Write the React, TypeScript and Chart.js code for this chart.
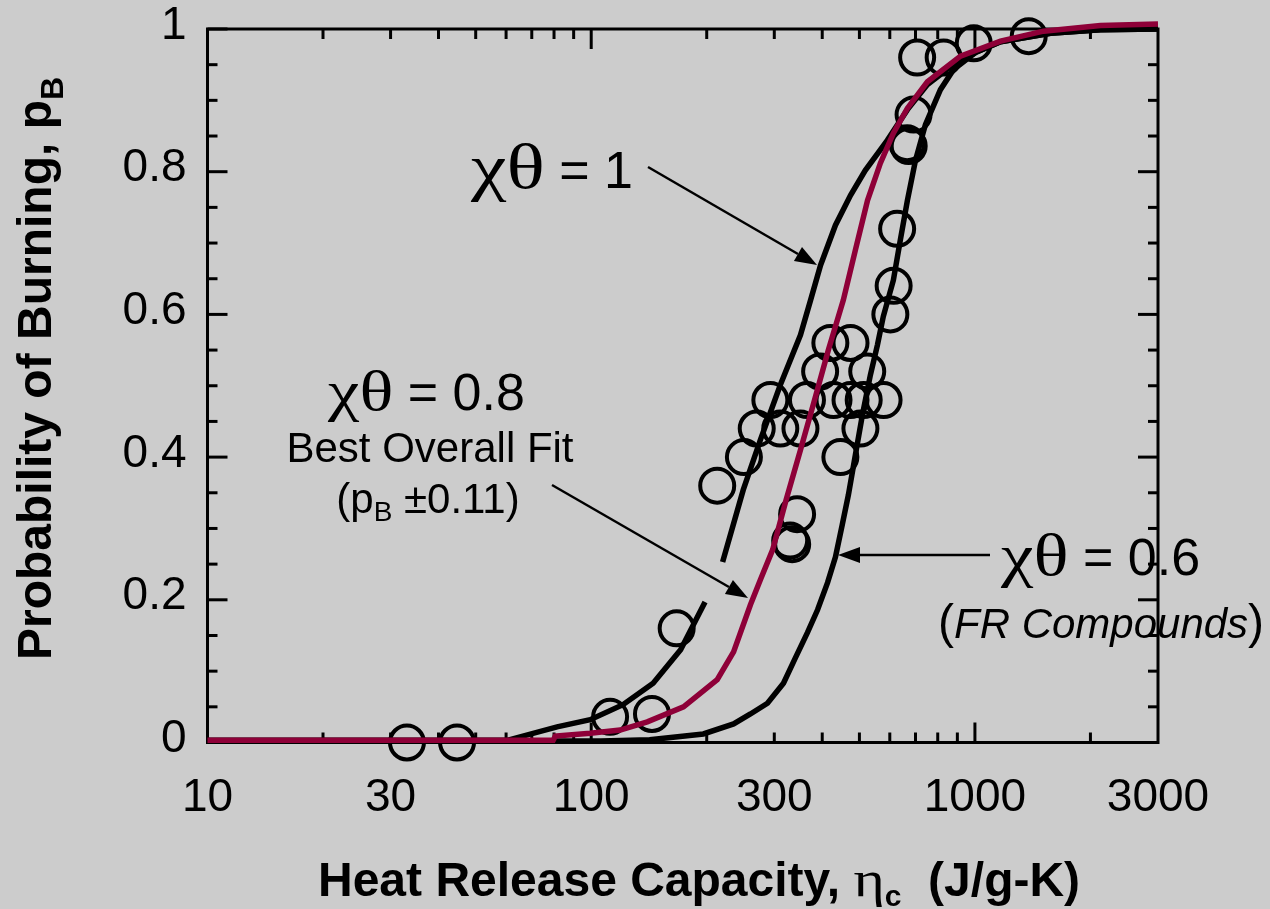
import React, { useEffect, useRef } from 'react';
import { Chart, registerables } from 'chart.js';

Chart.register(...registerables);

// ---------------- data ----------------
// χθ = 0.8 best overall fit (red)
const fitBest: [number, number][] = [
  [10, 0.003], [79.6, 0.003], [80.6, 0.009], [99.4, 0.013], [119, 0.0175], [140, 0.029],
  [174, 0.05], [213, 0.088], [235, 0.127], [260, 0.193], [276, 0.228], [297, 0.27],
  [322, 0.34], [351, 0.41], [382, 0.48], [415, 0.55], [454, 0.62], [488, 0.69],
  [525, 0.76], [567, 0.812], [613, 0.854], [667, 0.889], [752, 0.926], [917, 0.962],
  [1166, 0.983], [1509, 0.997], [2124, 1.005], [3000, 1.007],
];
// χθ = 1 (black, left)
const fitOne: [number, number | null][] = [
  [10, 0.003], [60.4, 0.003], [81.5, 0.022], [99.4, 0.032], [121, 0.053], [145, 0.083],
  [171, 0.13], [198, 0.197], [208, null], [220, 0.253], [249, 0.354], [276, 0.424],
  [311, 0.501], [351, 0.571], [373, 0.62], [396, 0.669], [433, 0.725], [474, 0.767],
  [518, 0.802], [591, 0.844], [667, 0.887], [752, 0.922], [864, 0.947], [1003, 0.967],
  [1166, 0.982], [1573, 0.994], [2124, 0.999], [3000, 1.0],
];
// χθ = 0.6 FR compounds (black, right)
const fitFR: [number, number][] = [
  [10, 0.002], [106, 0.002], [142, 0.004], [196, 0.012], [235, 0.026], [260, 0.04],
  [288, 0.055], [317, 0.083], [340, 0.118], [366, 0.154], [389, 0.186], [413, 0.224],
  [433, 0.26], [451, 0.305], [468, 0.347], [488, 0.403], [509, 0.459], [534, 0.515],
  [557, 0.557], [577, 0.597], [613, 0.648], [639, 0.704], [667, 0.76], [700, 0.816],
  [743, 0.866], [813, 0.915], [879, 0.943], [1003, 0.967], [1166, 0.982], [1573, 0.994],
  [2124, 0.999], [3000, 1.0],
];
// measured polymers (open circles)
const measured: [number, number][] = [
  [33.1, 0], [44.7, 0], [112, 0.036], [144, 0.04], [167, 0.16], [213, 0.36], [250, 0.4],
  [270, 0.44], [293, 0.48], [311, 0.44], [330, 0.283], [334, 0.278], [344, 0.32],
  [351, 0.44], [365, 0.48], [395, 0.52], [420, 0.56], [428, 0.48], [446, 0.4],
  [474, 0.56], [474, 0.48], [503, 0.44], [513, 0.48], [524, 0.52], [578, 0.48],
  [602, 0.6], [614, 0.64], [627, 0.72], [666, 0.84], [672, 0.836], [692, 0.88],
  [707, 0.96], [829, 0.96], [993, 0.98], [1381, 0.99],
];

const xTickLabels = [10, 30, 100, 300, 1000, 3000];
const xMajorTicks = [100, 1000];
const xMinorTicks = [20, 30, 40, 50, 60, 70, 80, 90, 200, 300, 400, 500, 600, 700, 800, 900, 2000];
const yMajorTicks = [0, 0.2, 0.4, 0.6, 0.8, 1];
const yMinorTicks = [0.05, 0.1, 0.15, 0.25, 0.3, 0.35, 0.45, 0.5, 0.55, 0.65, 0.7, 0.75, 0.85, 0.9, 0.95];

// ---------------- styles ----------------
const SANS = '"Liberation Sans", Arial, Helvetica, sans-serif';
const SERIF = '"Liberation Serif", "Times New Roman", Times, serif';
const RED = '#8e0038';
const BG = '#cccccc';

type Run = { t: string; f: string; dy?: number; sx?: number };

function runsWidth(ctx: CanvasRenderingContext2D, runs: Run[]) {
  let w = 0;
  for (const r of runs) { ctx.font = r.f; w += ctx.measureText(r.t).width * (r.sx || 1); }
  return w;
}
function drawRuns(ctx: CanvasRenderingContext2D, x: number, y: number, runs: Run[], align: 'left' | 'center' = 'left') {
  let cx = align === 'center' ? x - runsWidth(ctx, runs) / 2 : x;
  ctx.textAlign = 'left';
  ctx.textBaseline = 'alphabetic';
  for (const r of runs) {
    ctx.font = r.f;
    const sx = r.sx || 1;
    ctx.save();
    ctx.translate(cx, y + (r.dy || 0));
    ctx.scale(sx, 1);
    ctx.fillText(r.t, 0, 0);
    ctx.restore();
    cx += ctx.measureText(r.t).width * sx;
  }
}
function arrow(ctx: CanvasRenderingContext2D, x1: number, y1: number, x2: number, y2: number) {
  const ang = Math.atan2(y2 - y1, x2 - x1);
  const len = 22, hw = 8;
  const bx = x2 - len * Math.cos(ang), by = y2 - len * Math.sin(ang);
  ctx.beginPath();
  ctx.moveTo(x1, y1);
  ctx.lineTo(bx, by);
  ctx.lineWidth = 2.5;
  ctx.stroke();
  ctx.beginPath();
  ctx.moveTo(x2, y2);
  ctx.lineTo(bx - hw * Math.sin(ang), by + hw * Math.cos(ang));
  ctx.lineTo(bx + hw * Math.sin(ang), by - hw * Math.cos(ang));
  ctx.closePath();
  ctx.fill();
}

const framePlugin = {
  id: 'frameTicks',
  beforeDatasetsDraw(chart: any) {
    const { ctx, chartArea: a, scales } = chart;
    const xs = scales.x, ys = scales.y;
    ctx.save();
    ctx.strokeStyle = '#000';
    ctx.lineWidth = 3;
    ctx.strokeRect(a.left, a.top, a.right - a.left, a.bottom - a.top);
    const seg = (x1: number, y1: number, x2: number, y2: number) => {
      ctx.beginPath(); ctx.moveTo(x1, y1); ctx.lineTo(x2, y2); ctx.stroke();
    };
    for (const v of yMajorTicks) { const p = ys.getPixelForValue(v); seg(a.left, p, a.left + 20, p); seg(a.right, p, a.right - 20, p); }
    for (const v of yMinorTicks) { const p = ys.getPixelForValue(v); seg(a.left, p, a.left + 10, p); seg(a.right, p, a.right - 10, p); }
    for (const v of xMajorTicks) { const p = xs.getPixelForValue(v); seg(p, a.bottom, p, a.bottom - 20); seg(p, a.top, p, a.top + 20); }
    for (const v of xMinorTicks) { const p = xs.getPixelForValue(v); seg(p, a.bottom, p, a.bottom - 10); seg(p, a.top, p, a.top + 10); }
    ctx.restore();
  },
};

const textPlugin = {
  id: 'texts',
  afterDatasetsDraw(chart: any) {
    const { ctx } = chart;
    ctx.save();
    ctx.fillStyle = '#000';
    ctx.strokeStyle = '#000';
    // axis titles
    drawRuns(ctx, 318, 896, [
      { t: 'Heat Release Capacity, ', f: `bold 48px ${SANS}` },
      { t: 'η', f: `50px ${SERIF}`, sx: 1.2 },
      { t: 'c', f: `bold 30px ${SANS}`, dy: 10 },
      { t: '  (J/g-K)', f: `bold 48px ${SANS}` },
    ]);
    ctx.save();
    ctx.translate(51, 660);
    ctx.rotate(-Math.PI / 2);
    drawRuns(ctx, 0, 0, [
      { t: 'Probability of Burning, p', f: `bold 48px ${SANS}` },
      { t: 'B', f: `bold 32px ${SANS}`, dy: 12 },
    ]);
    ctx.restore();
    // annotations
    drawRuns(ctx, 471, 188, [
      { t: 'χθ', f: `64px ${SERIF}`, sx: 1.25 },
      { t: ' = 1', f: `52px ${SANS}` },
    ]);
    drawRuns(ctx, 328, 410, [
      { t: 'χθ', f: `58px ${SERIF}`, sx: 1.22 },
      { t: ' = 0.8', f: `52px ${SANS}` },
    ]);
    drawRuns(ctx, 430, 462, [{ t: 'Best Overall Fit', f: `42px ${SANS}` }], 'center');
    drawRuns(ctx, 428, 513, [
      { t: '(p', f: `42px ${SANS}` },
      { t: 'B', f: `28px ${SANS}`, dy: 8 },
      { t: ' ±0.11)', f: `42px ${SANS}` },
    ], 'center');
    drawRuns(ctx, 1001, 575, [
      { t: 'χθ', f: `60px ${SERIF}`, sx: 1.22 },
      { t: ' = 0.6', f: `52px ${SANS}` },
    ]);
    drawRuns(ctx, 938, 638, [
      { t: '(', f: `48px ${SANS}` },
      { t: 'FR Compounds', f: `italic 42px ${SANS}` },
      { t: ')', f: `48px ${SANS}` },
    ]);
    // arrows
    arrow(ctx, 648, 167, 817, 265);
    arrow(ctx, 552, 485, 748, 598);
    arrow(ctx, 990, 555, 838, 555);
    ctx.restore();
  },
};

export default function App() {
  const ref = useRef<HTMLCanvasElement | null>(null);
  useEffect(() => {
    if (!ref.current) return;
    const toXY = (arr: [number, number | null][]) => arr.map(([x, y]) => ({ x, y }));
    const chart = new Chart(ref.current, {
      type: 'scatter',
      data: {
        datasets: [
          {
            label: 'χθ = 0.8', data: toXY(fitBest) as any, showLine: true, borderColor: RED,
            borderWidth: 5.5, pointRadius: 0, order: 0, clip: false as any,
          },
          {
            label: 'χθ = 1', data: toXY(fitOne) as any, showLine: true, borderColor: '#000',
            borderWidth: 5.5, pointRadius: 0, spanGaps: false, order: 1, clip: false as any,
          },
          {
            label: 'χθ = 0.6', data: toXY(fitFR) as any, showLine: true, borderColor: '#000',
            borderWidth: 5.5, pointRadius: 0, order: 1, clip: false as any,
          },
          {
            label: 'data', data: toXY(measured) as any, showLine: false, borderColor: '#000',
            backgroundColor: 'rgba(0,0,0,0)', borderWidth: 4, pointRadius: 17, order: 2, clip: false as any,
          },
        ],
      },
      options: {
        animation: false,
        responsive: false,
        devicePixelRatio: 1,
        layout: { padding: { top: 29, right: 112, left: 0, bottom: 0 } },
        plugins: { legend: { display: false }, tooltip: { enabled: false } },
        scales: {
          x: {
            type: 'logarithmic',
            min: 10,
            max: 3000,
            grid: { display: false, drawTicks: false },
            border: { display: false },
            afterFit: (s: any) => { s.height = 166.5; s.paddingLeft = 0; s.paddingRight = 0; },
            afterBuildTicks: (s: any) => { s.ticks = xTickLabels.map((v) => ({ value: v })); },
            ticks: {
              autoSkip: false,
              maxRotation: 0,
              padding: 28,
              color: '#000',
              font: { family: SANS, size: 46 },
              callback: (v: any) => String(v),
            },
          },
          y: {
            type: 'linear',
            min: 0,
            max: 1,
            grid: { display: false, drawTicks: false },
            border: { display: false },
            afterFit: (s: any) => { s.width = 207.5; s.paddingTop = 0; s.paddingBottom = 0; },
            afterBuildTicks: (s: any) => { s.ticks = yMajorTicks.map((v) => ({ value: v })); },
            ticks: {
              padding: 21,
              labelOffset: -3,
              color: '#000',
              font: { family: SANS, size: 46 },
              callback: (v: any) => {
                const r = Math.round(Number(v) * 10) / 10;
                return r === 0 ? '0' : r === 1 ? '1' : r.toFixed(1);
              },
            },
          },
        },
      },
      plugins: [framePlugin, textPlugin],
    });
    return () => chart.destroy();
  }, []);
  return (
    <div style={{ position: 'fixed', left: 0, top: 0, width: 1270, height: 909, background: BG }}>
      <canvas ref={ref} width={1270} height={909} style={{ display: 'block' }} />
    </div>
  );
}
